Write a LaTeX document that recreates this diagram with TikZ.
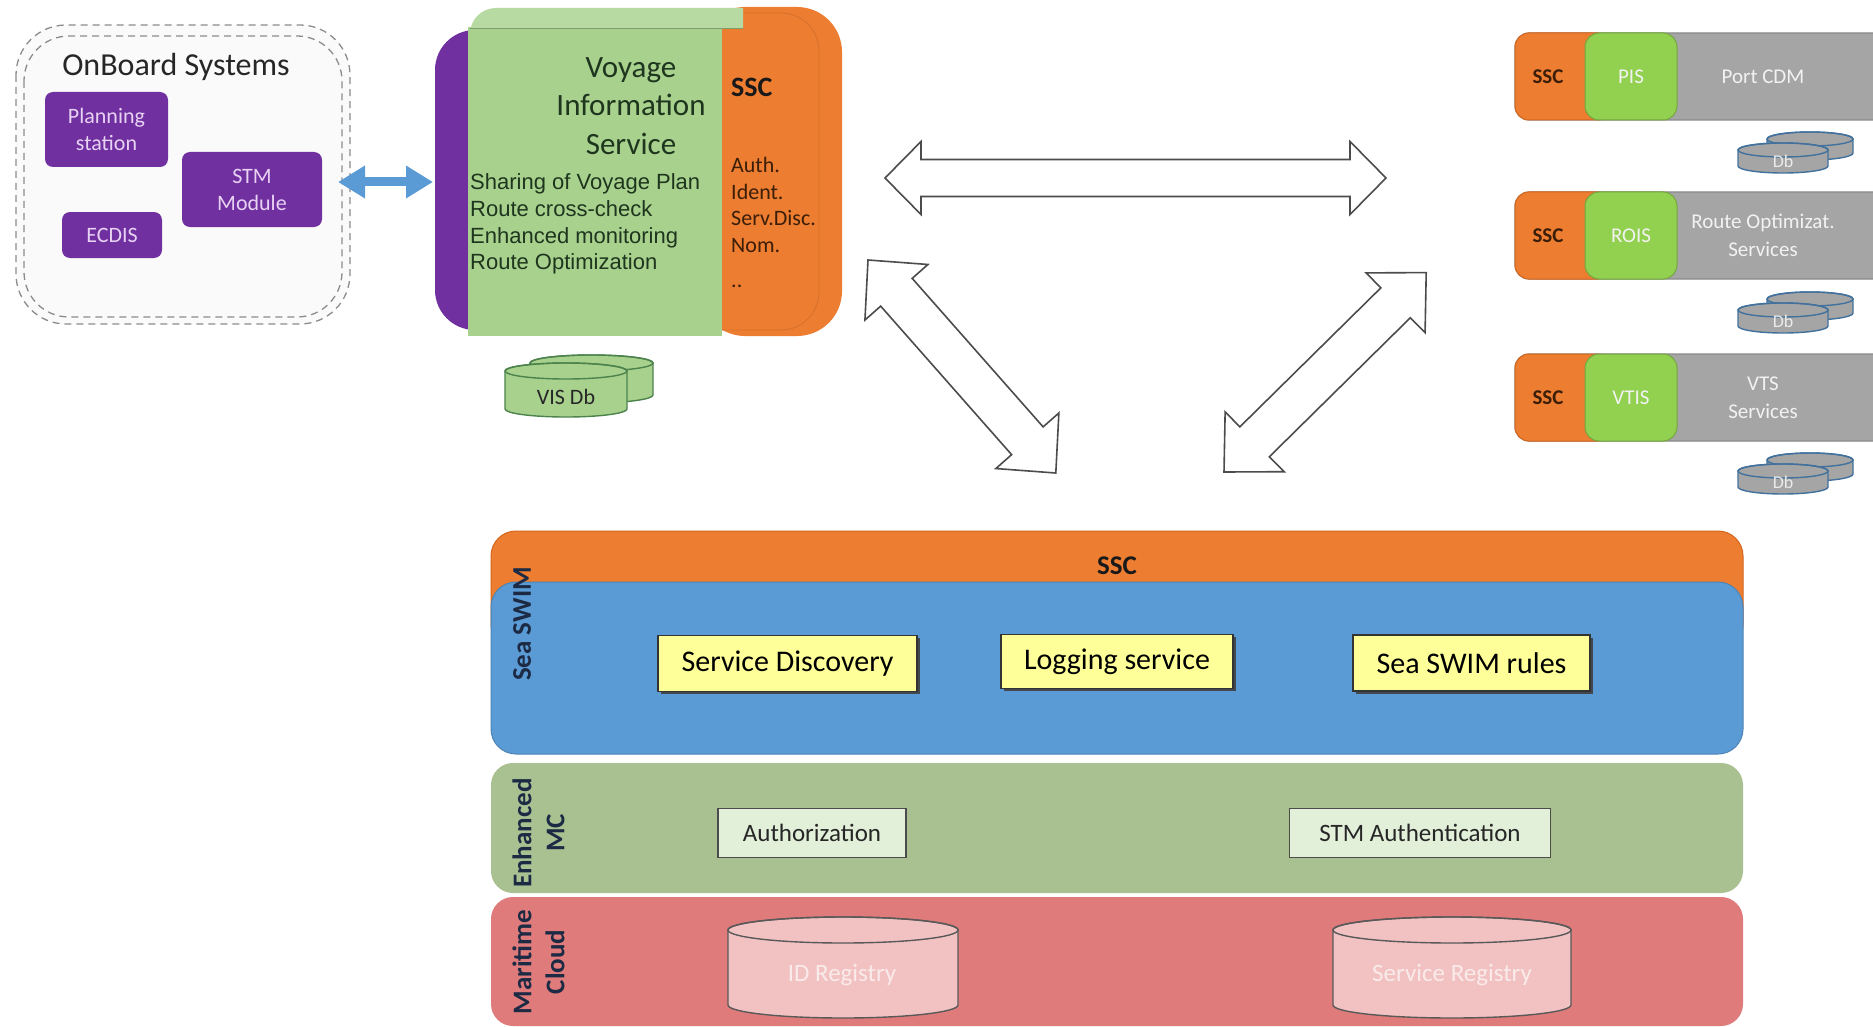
\documentclass[tikz,border=0pt]{standalone}
\usepackage{fontspec}
\setmainfont{Carlito}
\newfontfamily\arialf{Liberation Sans}
\usetikzlibrary{arrows.meta,shadows}
\definecolor{purp}{HTML}{7030A0}
\definecolor{purptext}{HTML}{E8D2F4}
\definecolor{visgreen}{HTML}{A9D18E}
\definecolor{vistab}{HTML}{B7D9A2}
\definecolor{ssco}{HTML}{ED7D31}
\definecolor{sscodark}{HTML}{D4661E}
\definecolor{sscdark}{HTML}{3B1E08}
\definecolor{visdark}{HTML}{1E351E}
\definecolor{rowgray}{HTML}{A5A5A5}
\definecolor{rowgrayd}{HTML}{8A8A8A}
\definecolor{rowgreen}{HTML}{92D050}
\definecolor{dbblue}{HTML}{41719C}
\definecolor{swimblue}{HTML}{5B9BD5}
\definecolor{mcgreen}{HTML}{A9C191}
\definecolor{cloudred}{HTML}{E07B7B}
\definecolor{cylpink}{HTML}{F2C2C2}
\definecolor{yel}{HTML}{FFFF99}
\definecolor{authfill}{HTML}{E2EFD9}
\definecolor{arrowblue}{HTML}{5B9BD5}
\definecolor{navytext}{HTML}{1C2A44}

% cylinder: x1 x2 ytop-center ybottom-center ry fill draw
\newcommand{\dbcyl}[7]{%
  \pgfmathsetmacro{\cylA}{(#2-#1)/2}%
  \pgfmathsetmacro{\cylC}{(#1+#2)/2}%
  \filldraw[fill=#6,draw=#7,line width=1.4pt] (#1,#3) -- (#1,#4)
    arc[start angle=180,end angle=360,x radius=\cylA pt,y radius=#5pt]
    -- (#2,#3)
    arc[start angle=0,end angle=180,x radius=\cylA pt,y radius=#5pt] -- cycle;
  \draw[draw=#7,line width=1.4pt] (\cylC,#3) ellipse[x radius=\cylA pt,y radius=#5pt];
}
% outline double arrow along local x: L h w s
\newcommand{\bigdarrow}[4]{%
  \draw[outarrow] (0,0) -- (#2,-#3) -- (#2,-#4) -- ({#1-#2},-#4) -- ({#1-#2},-#3)
    -- (#1,0) -- ({#1-#2},#3) -- ({#1-#2},#4) -- (#2,#4) -- (#2,#3) -- cycle;}

\begin{document}
\begin{tikzpicture}[x=1pt,y=-1pt,
  pbox/.style={fill=purp, rounded corners=8pt, text=purptext, align=center,
    font=\fontsize{22}{27}\selectfont, inner sep=0pt},
  dashbox/.style={draw=black!45, dashed, dash pattern=on 7pt off 5pt, line width=1.3pt},
  outarrow/.style={draw=black!70, line width=1.6pt, fill=white, line join=miter},
  rowtxt/.style={text=white!95!black, align=center, font=\fontsize{21}{28}\selectfont, inner sep=0pt},
  rowssc/.style={text=sscdark, font=\bfseries\fontsize{21}{26}\selectfont, inner sep=0pt},
  dbtxt/.style={text=white!92!black, font=\fontsize{18}{22}\selectfont, inner sep=0pt},
  ybox/.style={fill=yel, draw=black!80, line width=1.3pt, font=\fontsize{30}{36}\selectfont,
    inner sep=0pt, drop shadow={shadow xshift=2.5pt, shadow yshift=-2.5pt, fill=black!75, opacity=0.9}},
  abox/.style={fill=authfill, draw=black!70, line width=1.5pt, font=\fontsize{25}{30}\selectfont,
    inner sep=0pt, text=black!85},
  sidelbl/.style={rotate=90, align=center, font=\bfseries\fontsize{27}{33}\selectfont, inner sep=0pt, text=navytext},
  regtxt/.style={text=white!85!cloudred, font=\fontsize{25}{30}\selectfont, inner sep=0pt}
]
\useasboundingbox (0,0) rectangle (1873,1027);
\fill[white] (0,0) rectangle (1873,1027);

% ---------------- OnBoard Systems ----------------
\fill[black!2, rounded corners=50pt] (16,25) rectangle (350,324);
\draw[dashbox, rounded corners=50pt] (16,25) rectangle (350,324);
\draw[dashbox, rounded corners=45pt] (24,36) rectangle (342,317);
\node[font=\fontsize{32}{38}\selectfont, text=black!85, inner sep=0pt] (obtitle) at (176,67) {OnBoard Systems};
\node[pbox, minimum width=123pt, minimum height=75pt] (plan) at (106.5,129.5) {Planning\\station};
\node[pbox, minimum width=140pt, minimum height=75pt] (stm) at (252,189.5) {STM\\Module};
\node[pbox, minimum width=100pt, minimum height=46pt] (ecdis) at (112,235) {ECDIS};

% blue arrow
\coordinate (ba1) at (338,182);
\coordinate (ba2) at (433,182);
\draw[arrowblue, line width=9pt,
  {Triangle[length=27pt,width=31pt]}-{Triangle[length=27pt,width=31pt]}] (ba1) -- (ba2);

% ---------------- VIS ----------------
\fill[purp, rounded corners=40pt] (435,30) rectangle (560,330);
\fill[ssco, rounded corners=45pt] (700,7) rectangle (842,336);
\draw[ssco!90!black, line width=0.8pt, rounded corners=38pt] (722,13) -- (819,13) -- (819,330) -- (722,330);
\fill[visgreen] (468,27) rectangle (722,336);
\begin{scope}
  \clip (460,0) rectangle (743,28);
  \fill[vistab, rounded corners=26pt] (470,8) rectangle (800,70);
\end{scope}
\draw[visgreen!75!black, line width=0.8pt] (470,28) -- (743,28);
\node[font=\fontsize{31}{38.5}\selectfont, align=center, text=visdark, inner sep=0pt] (vistitle) at (631,106) {Voyage\\Information\\Service};
\node[anchor=west, font=\arialf\fontsize{22}{26.7}\selectfont, align=left, text=visdark, inner sep=0pt] (vislist) at (470,224) {Sharing of Voyage Plan\\Route cross-check\\Enhanced monitoring\\Route Optimization};
\node[anchor=west, font=\bfseries\fontsize{28}{32}\selectfont, text=black!90, inner sep=0pt] (visssc) at (731,87) {SSC};
\node[anchor=west, font=\fontsize{22}{26.7}\selectfont, align=left, text=sscdark, inner sep=0pt] (visssclist) at (731,205) {Auth.\\Ident.\\Serv.Disc.\\Nom.};
\node[anchor=base west, font=\fontsize{22}{26.7}\selectfont, text=sscdark, inner sep=0pt] (visdots) at (731,287) {..};

% VIS Db
\dbcyl{530}{653}{363}{395}{8}{visgreen}{green!30!black!70}
\dbcyl{505}{627}{371}{409}{8}{visgreen}{green!30!black!70}
\node[font=\fontsize{22}{26}\selectfont, text=black!85, inner sep=0pt] (visdb) at (566,397) {VIS Db};

% ---------------- Right-side services ----------------
\foreach \yt/\yb/\nm/\lbl/\rowname in {33/120/PIS/{Port CDM}/r1, 192/279/ROIS/{Route Optimizat.\\Services}/r2, 354/441/VTIS/{VTS\\Services}/r3}{
  \fill[rowgray, draw=rowgrayd, line width=1.2pt, rounded corners=14pt] (1515,\yt) rectangle (1900,\yb);
  \fill[ssco, draw=sscodark, line width=1pt, rounded corners=14pt] (1515,\yt) rectangle (1612,\yb);
  \fill[rowgreen, draw=rowgreen!80!black, line width=1pt, rounded corners=14pt] (1585,\yt) rectangle (1677,\yb);
  \node[rowssc] (\rowname ssc) at (1548,{(\yt+\yb)/2}) {SSC};
  \node[rowtxt] (\rowname svc) at (1631,{(\yt+\yb)/2}) {\nm};
  \node[rowtxt] (\rowname lbl) at (1763,{(\yt+\yb)/2}) {\lbl};
}
\foreach \yo/\cn in {0/d1, 160/d2, 321/d3}{
  \dbcyl{1767}{1853}{139+\yo}{153+\yo}{7}{rowgray}{dbblue}
  \dbcyl{1738}{1828}{150+\yo}{166+\yo}{7}{rowgray}{dbblue}
  \node[dbtxt] (\cn) at (1783,{161+\yo}) {Db};
}

% ---------------- Big outline arrows ----------------
\coordinate (hl) at (885,178);
\coordinate (dl) at (868,260);
\coordinate (dr) at (1224,472);
\begin{scope}[shift={(hl)}]
  \bigdarrow{501}{36}{36.5}{18.5}
\end{scope}
\begin{scope}[shift={(dl)}, rotate=-48.6]
  \bigdarrow{284}{43}{42}{21}
\end{scope}
\begin{scope}[shift={(dr)}, rotate=44.6]
  \bigdarrow{284}{43}{42}{21}
\end{scope}

% ---------------- Layers ----------------
\fill[ssco, draw=sscodark, line width=1pt, rounded corners=25pt] (491,531) rectangle (1743,650);
\fill[swimblue, draw=swimblue!85!black, line width=1pt, rounded corners=25pt] (491,582) rectangle (1743,754);
\fill[mcgreen, rounded corners=22pt] (491,763) rectangle (1743,893);
\fill[cloudred, rounded corners=22pt] (491,897) rectangle (1743,1026);

\node[font=\bfseries\fontsize{27}{32}\selectfont, text=black!90, inner sep=0pt] (ssclayer) at (1117,566) {SSC};
\node[sidelbl] (seaswim) at (522,624) {Sea SWIM};
\node[sidelbl] (emc) at (538.5,833) {Enhanced\\MC};
\node[sidelbl] (mcloud) at (538.5,962) {Maritime\\Cloud};

\node[ybox, minimum width=259pt, minimum height=56pt] (sd) at (787.5,663.5) {Service Discovery};
\node[ybox, minimum width=232pt, minimum height=54pt] (logs) at (1117,661.5) {Logging service};
\node[ybox, minimum width=237pt, minimum height=56pt] (rules) at (1471.5,663) {Sea SWIM rules};

\node[abox, minimum width=188pt, minimum height=49pt] (authz) at (812,833) {Authorization};
\node[abox, minimum width=261pt, minimum height=49pt] (stmauth) at (1420,833) {STM Authentication};

\dbcyl{728}{958}{930}{1005}{13}{cylpink}{black!65}
\dbcyl{1333}{1571}{930}{1005}{13}{cylpink}{black!65}
\node[regtxt] (idreg) at (842,975) {ID Registry};
\node[regtxt] (svcreg) at (1452,975) {Service Registry};
\end{tikzpicture}
\end{document}
